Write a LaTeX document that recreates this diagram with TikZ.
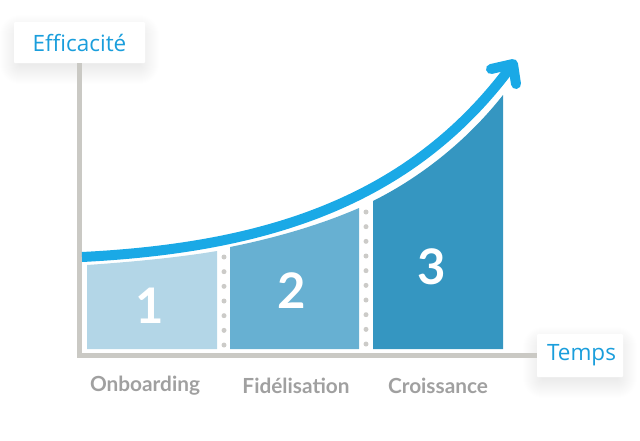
\documentclass[tikz,border=0pt]{standalone}
\usepackage{fontspec}
\setmainfont{Lato}
\newfontfamily\boxfont{Open Sans}
\definecolor{axisgray}{HTML}{CAC9C4}
\definecolor{dotgray}{HTML}{CCCBC8}
\definecolor{labelgray}{HTML}{A0A0A0}
\definecolor{curveblue}{HTML}{1AA9E6}
\definecolor{textblue}{HTML}{1A9EDC}
\definecolor{stepone}{HTML}{B3D6E7}
\definecolor{steptwo}{HTML}{67B0D2}
\definecolor{stepthree}{HTML}{3596C1}
\tikzset{
  axisbox/.style={fill=white,rounded corners=1pt,inner sep=0pt,text=textblue,font=\boxfont\fontsize{22.5}{23}\selectfont},
  numlabel/.style={text=white,font=\bfseries\fontsize{49}{49}\selectfont},
  steplabel/.style={text=labelgray,font=\bfseries\fontsize{20.8}{21}\selectfont},
  curveline/.style={draw=curveblue,line width=10pt}
}
\begin{document}
\begin{tikzpicture}[x=1pt,y=-1pt]
  \useasboundingbox (0,0) rectangle (640,440);
  % soft shadows of the two boxes
  \foreach \s in {1,...,20} {
    \pgfmathsetmacro{\d}{\s-6}
    \fill[black,opacity=.004,rounded corners=\s pt] (14-\d,29-\d) rectangle (145+\d,70+\d);
    \fill[black,opacity=.004,rounded corners=\s pt] (537-\d,341-\d) rectangle (623+\d,384+\d);
  }
  \coordinate (orig) at (79.5,355.5);
  \node[axisbox,minimum width=131pt,minimum height=41pt] (eff) at (79.5,42.5) {Efficacit\'e};
  \node[axisbox,minimum width=86pt,minimum height=43pt] (temps) at (580,355.5) {\hspace{3pt}Temps};
  \draw[axisgray,line width=5pt] (eff.south -| orig) -- (orig) -- (temps.west |- orig);
  % the three steps
  \fill[stepone] (87,349) -- (87,265) .. controls (130,262) and (175,258) .. (217,251) -- (217,349) -- cycle;
  \fill[steptwo] (230,349) -- (230,247) .. controls (275,238) and (320,225) .. (359,208) -- (359,349) -- cycle;
  \fill[stepthree] (373,349) -- (373,201) .. controls (425,175) and (470,137) .. (503,95) -- (503,349) -- cycle;
  \foreach \i in {0,...,6}
    \fill[dotgray] (224,257+14.67*\i) circle (2.5pt);
  \foreach \i in {0,...,9}
    \fill[dotgray] (366,212+14.67*\i) circle (2.5pt);
  % growth curve
  \coordinate (start) at (82,257);
  \coordinate (tip) at (513,64);
  \draw[curveline] (start) .. controls (260,248) and (410,205) .. (tip);
  \draw[curveline,line cap=round,line join=round] (491,69) -- (tip) -- (516,84);
  \node[numlabel] (one) at (150,306) {1};
  \node[numlabel] (two) at (292,291) {2};
  \node[numlabel] (three) at (432,267) {3};
  \node[steplabel] (onboarding) at (145,386) {Onboarding};
  \node[steplabel] (fidelisation) at (296,386) {Fid\'elisation};
  \node[steplabel] (croissance) at (438,386) {Croissance};
\end{tikzpicture}
\end{document}
